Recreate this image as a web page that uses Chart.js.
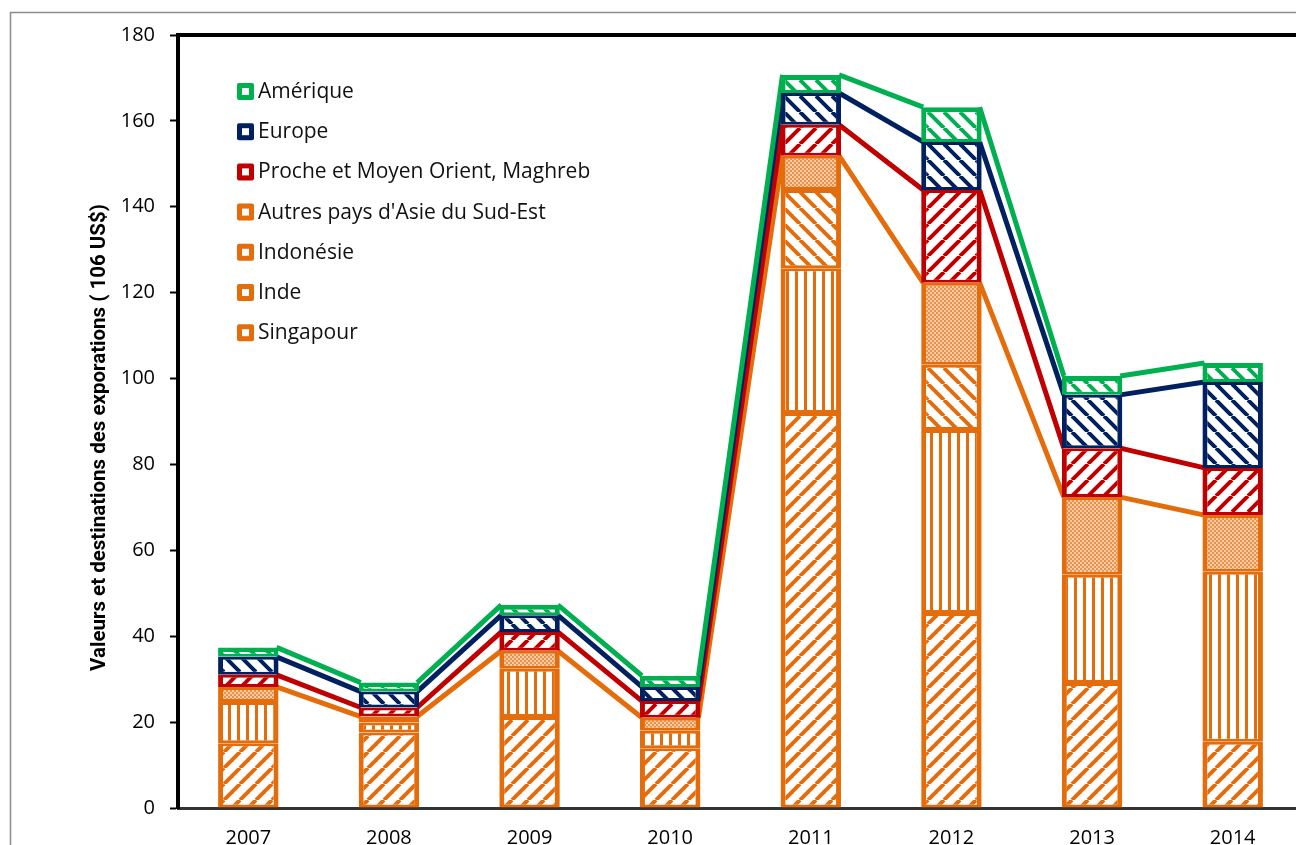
<!DOCTYPE html>
<html>
<head>
<meta charset="utf-8">
<script src="https://cdn.jsdelivr.net/npm/chart.js@4.4.1/dist/chart.umd.min.js"></script>
<style>
  html, body { margin: 0; padding: 0; background: #fff; }
  #wrap { width: 1296px; height: 845px; overflow: hidden; position: relative; }
  #chart { position: absolute; left: 0; top: 0; }
</style>
</head>
<body>
<div id="wrap"><canvas id="chart" width="1320" height="880"></canvas></div>
<script>
// years on the x axis
const years = ["2007", "2008", "2009", "2010", "2011", "2012", "2013", "2014"];

// export values per destination (10^6 US$)
const singapour = [15.1, 17.6, 21.2, 13.9, 92.0, 45.4, 29.1, 15.4];
const inde      = [9.6, 2.3, 11.2, 4.1, 33.7, 42.6, 25.2, 39.6];
const indonesie = [0, 0, 0, 0, 18.2, 15.2, 0, 0];
const autresAsie = [3.5, 1.4, 4.2, 3.0, 8.0, 19.1, 18.1, 13.2];
const procheOrient = [2.8, 2.1, 4.4, 3.9, 7.2, 21.6, 11.4, 11.0];
const europe    = [4.2, 3.7, 3.9, 3.3, 7.4, 11.2, 12.4, 20.0];
const amerique  = [2.2, 2.1, 2.4, 2.6, 4.2, 8.1, 4.4, 4.4];

const yTicks = [0, 20, 40, 60, 80, 100, 120, 140, 160, 180];
const yTitle = "Valeurs et destinations des exporations ( 106 US$)";

const ORANGE = "#E46C0A";
const RED = "#C00000";
const NAVY = "#002060";
const GREEN = "#00B050";

function makePattern(color, kind) {
  const c = document.createElement("canvas");
  const ctx = c.getContext("2d");
  if (kind === "dots") {
    c.width = 4; c.height = 4;
    ctx.fillStyle = "#fff";
    ctx.fillRect(0, 0, 4, 4);
    ctx.fillStyle = color;
    ctx.globalAlpha = 0.75;
    ctx.fillRect(0, 0, 2, 2);
    ctx.fillRect(2, 2, 2, 2);
    ctx.globalAlpha = 0.35;
    ctx.fillRect(2, 0, 2, 2);
    ctx.fillRect(0, 2, 2, 2);
  } else if (kind === "vert") {
    c.width = 9; c.height = 9;
    ctx.fillStyle = "#fff";
    ctx.fillRect(0, 0, 9, 9);
    ctx.fillStyle = color;
    ctx.fillRect(3, 0, 3, 9);
  } else {
    const s = 16;
    c.width = s; c.height = s;
    ctx.fillStyle = "#fff";
    ctx.fillRect(0, 0, s, s);
    ctx.strokeStyle = color;
    ctx.lineWidth = 4;
    ctx.beginPath();
    for (let k = -1; k <= 1; k++) {
      if (kind === "fwd") {
        ctx.moveTo(k * s, s);
        ctx.lineTo(k * s + s, 0);
      } else {
        ctx.moveTo(k * s, 0);
        ctx.lineTo(k * s + s, s);
      }
    }
    ctx.stroke();
  }
  return document.getElementById("chart").getContext("2d").createPattern(c, "repeat");
}

function ds(label, data, color, kind, lineOn) {
  return {
    label: label,
    data: data,
    backgroundColor: makePattern(color, kind),
    borderColor: color,
    borderWidth: { top: 3, bottom: 3, left: 5, right: 5 },
    borderSkipped: false,
    seriesLine: lineOn,
    legendColor: color,
  };
}

const datasets = [
  ds("Singapour", singapour, ORANGE, "fwd", false),
  ds("Inde", inde, ORANGE, "vert", false),
  ds("Indonésie", indonesie, ORANGE, "back", false),
  ds("Autres pays d'Asie du Sud-Est", autresAsie, ORANGE, "dots", true),
  ds("Proche et Moyen Orient, Maghreb", procheOrient, RED, "fwd", true),
  ds("Europe", europe, NAVY, "back", true),
  ds("Amérique", amerique, GREEN, "back", true),
];
datasets[6].borderWidth = { top: 5, bottom: 3, left: 5, right: 5 };

// Excel-like series lines between the stacked bars
const seriesLines = {
  id: "seriesLines",
  beforeDatasetsDraw(chart) {
    const ctx = chart.ctx;
    ctx.save();
    ctx.lineWidth = 5;
    chart.data.datasets.forEach((d, i) => {
      if (!d.seriesLine) return;
      const meta = chart.getDatasetMeta(i);
      ctx.strokeStyle = d.borderColor;
      ctx.beginPath();
      for (let j = 0; j < meta.data.length - 1; j++) {
        const a = meta.data[j].getProps(["x", "y", "width"], true);
        const b = meta.data[j + 1].getProps(["x", "y", "width"], true);
        ctx.moveTo(a.x + a.width / 2 - 2, a.y);
        ctx.lineTo(b.x - b.width / 2 + 2, b.y);
      }
      ctx.stroke();
    });
    ctx.restore();
  },
};

// frame, top border, axis title and the legend placed inside the plot
const decorations = {
  id: "decorations",
  beforeDraw(chart) {
    const ctx = chart.ctx;
    ctx.save();
    ctx.fillStyle = "#fff";
    ctx.fillRect(0, 0, chart.width, chart.height);
    ctx.strokeStyle = "#8c8c8c";
    ctx.lineWidth = 1.5;
    ctx.strokeRect(10.5, 12.5, 2000, 2000);
    ctx.restore();
  },
  afterDraw(chart) {
    const ctx = chart.ctx;
    const area = chart.chartArea;
    ctx.save();
    ctx.strokeStyle = "#000";
    ctx.lineWidth = 4;
    ctx.beginPath();
    ctx.moveTo(area.left - 2, area.top);
    ctx.lineTo(area.right, area.top);
    ctx.stroke();

    // rotated y title
    ctx.save();
    ctx.translate(100, (area.top + area.bottom) / 2 + 16);
    ctx.rotate(-Math.PI / 2);
    ctx.font = "bold 20.5px Roboto";
    ctx.fillStyle = "#000";
    ctx.textAlign = "center";
    ctx.textBaseline = "middle";
    ctx.fillText(yTitle, 0, 0);
    ctx.restore();

    const items = chart.data.datasets.slice().reverse();
    const x0 = area.left + 59;
    let y = area.top + 56;
    ctx.font = "21px 'Open Sans'";
    ctx.textBaseline = "middle";
    items.forEach((d) => {
      ctx.fillStyle = d.legendColor;
      ctx.beginPath();
      ctx.roundRect(x0, y - 8, 17, 17, 2);
      ctx.fill();
      ctx.fillStyle = "#fff";
      ctx.fillRect(x0 + 5, y - 3, 7, 7);
      ctx.fillStyle = "#111";
      ctx.fillText(d.label, x0 + 21, y + 1);
      y += 40.2;
    });
    ctx.restore();
  },
};

new Chart(document.getElementById("chart"), {
  type: "bar",
  data: { labels: years, datasets: datasets },
  options: {
    responsive: false,
    animation: false,
    devicePixelRatio: 1,
    layout: { padding: { top: 35, right: 17, left: 0, bottom: 0 } },
    datasets: { bar: { categoryPercentage: 1, barPercentage: 0.43 } },
    plugins: { legend: { display: false }, tooltip: { enabled: false } },
    scales: {
      x: {
        stacked: true,
        grid: { display: false, drawTicks: false },
        border: { display: true, color: "#333", width: 3 },
        ticks: { color: "#000", padding: 18, font: { family: "Open Sans", size: 20 } },
        afterFit: (s) => { s.height = 880 - 808; },
      },
      y: {
        stacked: true,
        min: 0,
        max: 180,
        afterBuildTicks: (s) => { s.ticks = yTicks.map((v) => ({ value: v })); },
        grid: { drawOnChartArea: false, tickLength: 8, tickColor: "#000", tickWidth: 2 },
        border: { display: true, color: "#000", width: 4 },
        ticks: { color: "#000", padding: 15, font: { family: "Open Sans", size: 20 } },
        afterFit: (s) => { s.width = 178; },
      },
    },
  },
  plugins: [seriesLines, decorations],
});
</script>
</body>
</html>
